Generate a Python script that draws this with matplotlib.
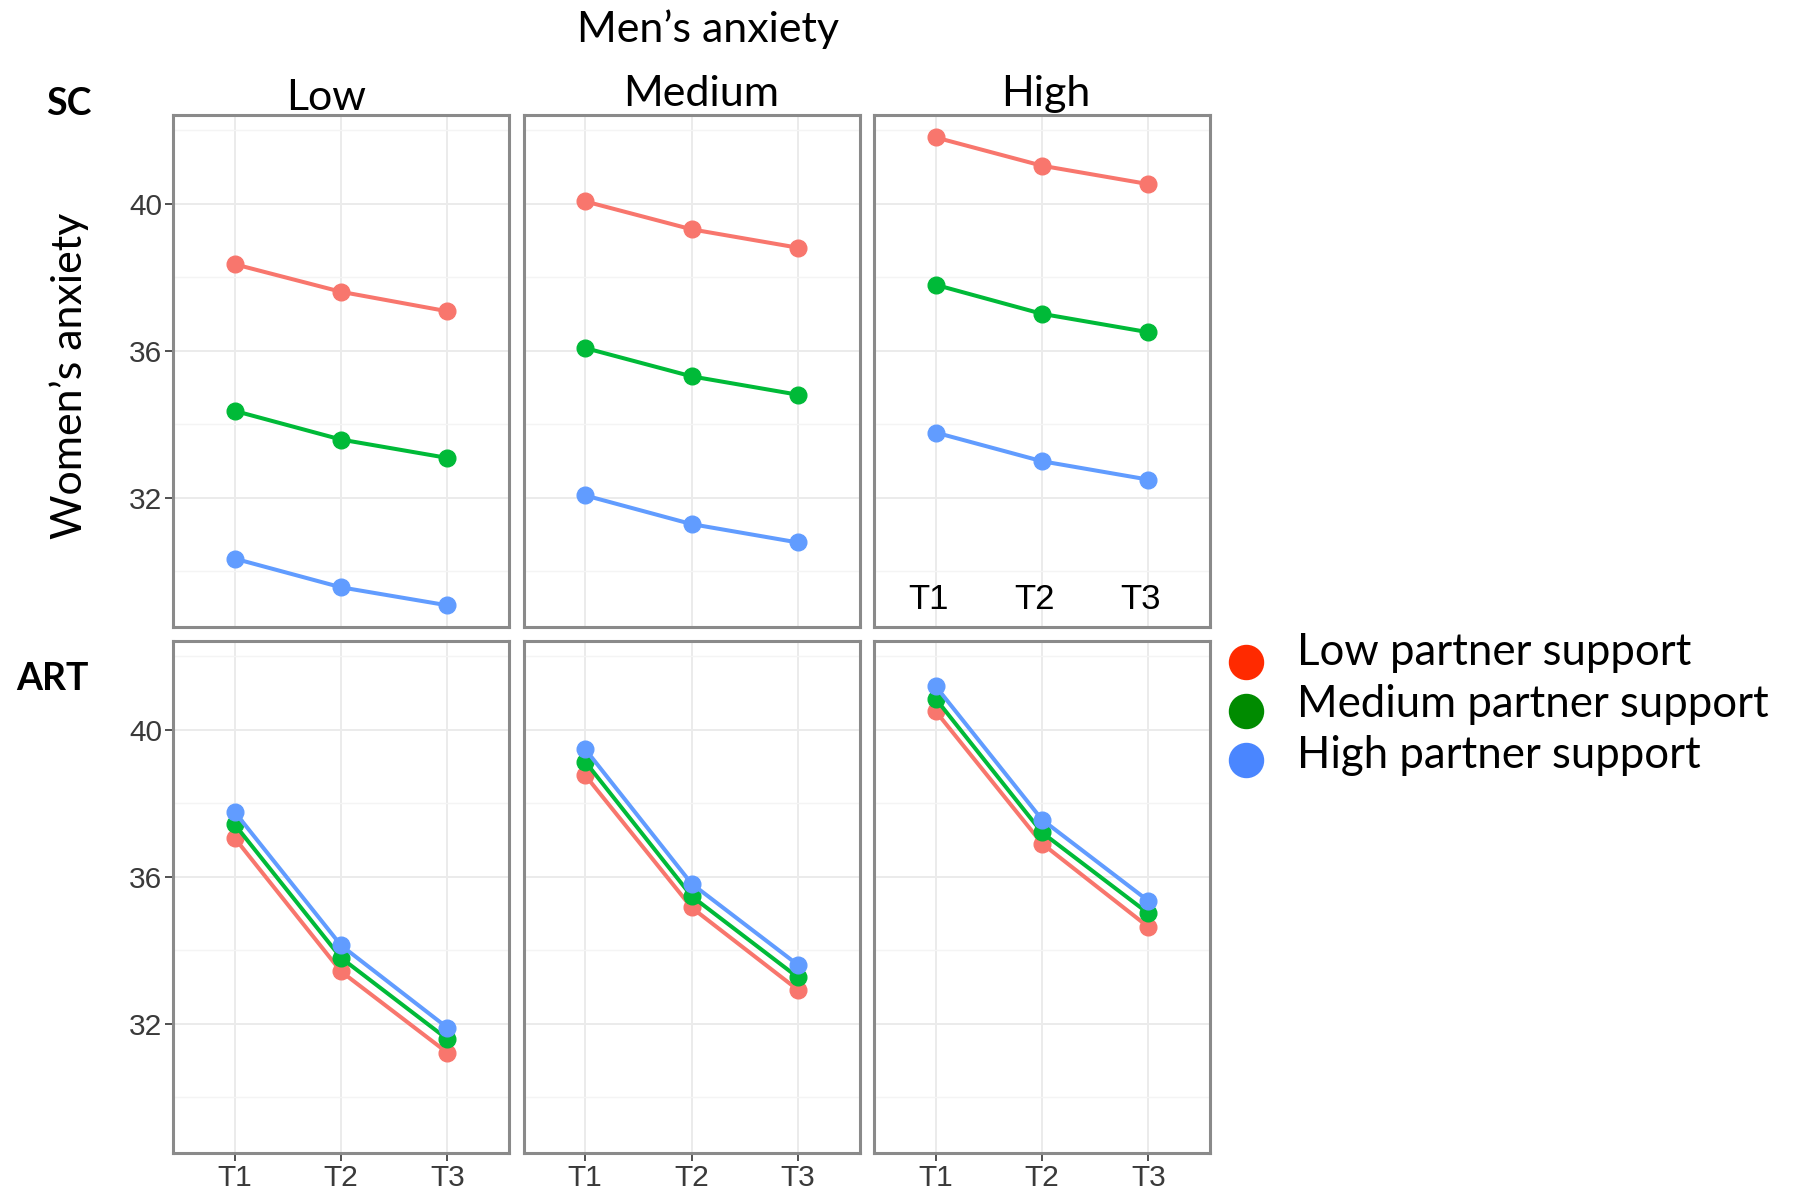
import matplotlib
matplotlib.use("Agg")
import matplotlib.pyplot as plt
from matplotlib.lines import Line2D
from matplotlib.ticker import MultipleLocator

# ---------------- data ----------------
times = ["T1", "T2", "T3"]
mens_levels = ["Low", "Medium", "High"]
support_labels = ["Low partner support", "Medium partner support", "High partner support"]
row_labels = ["SC", "ART"]

# values per men's anxiety level (Low, Medium, High), each over T1..T3
sc_low_support = [[38.35, 37.60, 37.07], [40.06, 39.30, 38.80], [41.80, 41.03, 40.53]]
sc_medium_support = [[34.36, 33.58, 33.08], [36.07, 35.30, 34.80], [37.79, 37.00, 36.50]]
sc_high_support = [[30.34, 29.56, 29.07], [32.06, 31.28, 30.78], [33.77, 32.99, 32.49]]

art_low_support = [[37.05, 33.42, 31.21], [38.76, 35.16, 32.92], [40.50, 36.90, 34.63]]
art_medium_support = [[37.42, 33.79, 31.58], [39.13, 35.47, 33.26], [40.84, 37.20, 35.00]]
art_high_support = [[37.76, 34.13, 31.89], [39.47, 35.81, 33.60], [41.18, 37.55, 35.34]]

line_colors = ["#F8766D", "#00BA38", "#619CFF"]
legend_colors = ["#FF2A00", "#008B00", "#4A86FF"]

rows = [
    [sc_low_support, sc_medium_support, sc_high_support],
    [art_low_support, art_medium_support, art_high_support],
]

# ---------------- layout ----------------
W, H = 1796, 1194
fig = plt.figure(figsize=(W / 100, H / 100), dpi=100)

col_left = [173, 523.5, 874]
col_w = 336
row_top = [115, 641]
row_h = 512

TXT = "Lato"
TICK = "Liberation Sans"
BIG = 31

x = [1, 2, 3]
for r in range(2):
    for c in range(3):
        ax = fig.add_axes([col_left[c] / W, 1 - (row_top[r] + row_h) / H, col_w / W, row_h / H])
        ax.set_xlim(0.42, 3.58)
        ax.set_ylim(28.48, 42.41)
        ax.set_yticks([32, 36, 40])
        ax.set_yticks([30, 34, 38, 42], minor=True)
        ax.set_xticks(x)
        ax.grid(True, which="major", color="#EBEBEB", lw=1.4, zorder=0)
        ax.grid(True, which="minor", axis="y", color="#F4F4F4", lw=1.0, zorder=0)
        ax.set_axisbelow(True)
        for s in ax.spines.values():
            s.set_color("#8A8A8A")
            s.set_linewidth(2.2)
        for k, series in enumerate(rows[r]):
            ax.plot(x, series[c], color=line_colors[k], lw=2.9, marker="o", ms=12,
                    solid_capstyle="round", zorder=3)
        ax.tick_params(axis="both", which="minor", length=0)
        ax.tick_params(axis="both", which="major", color="#333333", width=1.2, length=6,
                       labelsize=21.5, labelcolor="#3A3A3A", pad=2)
        for lab in ax.get_yticklabels() + ax.get_xticklabels():
            lab.set_fontfamily(TICK)
        if c != 0:
            ax.tick_params(axis="y", left=False, labelleft=False)
        if r == 0:
            ax.tick_params(axis="x", bottom=False, labelbottom=False)
        else:
            ax.set_xticklabels(times)
        if r == 0 and c == 2:
            for xi, t in zip(x, times):
                ax.text(xi - 0.07, 0.035, t, transform=ax.get_xaxis_transform(),
                        ha="center", va="baseline", fontsize=25, fontfamily=TICK, color="black")

# ---------------- texts ----------------
def ftext(px, py, s, **kw):
    fig.text(px / W, 1 - py / H, s, **kw)

ftext(708, 41.7, "Men\u2019s anxiety", ha="center", va="baseline", fontsize=BIG, fontfamily=TXT)
for cx, by, lab in zip([326, 701, 1046], [110, 106, 106], mens_levels):
    ftext(cx, by, lab, ha="center", va="baseline", fontsize=BIG, fontfamily=TXT)
ftext(69, 115, row_labels[0], ha="center", va="baseline", fontsize=27, fontfamily=TXT, fontweight="bold")
ftext(52, 690, row_labels[1], ha="center", va="baseline", fontsize=27, fontfamily=TXT, fontweight="bold")
ftext(69, 376, "Women\u2019s anxiety", ha="center", va="center", rotation=90, fontsize=BIG, fontfamily=TXT)

# ---------------- legend ----------------
dot_y = [662, 711, 760]
text_base = [665, 717, 768]
for k, lab in enumerate(support_labels):
    fig.add_artist(Line2D([1246 / W], [1 - dot_y[k] / H], transform=fig.transFigure,
                          ls="none", marker="o", ms=24.5, color=legend_colors[k], label=lab))
    ftext(1297, text_base[k], lab, ha="left", va="baseline", fontsize=31.5, fontfamily=TXT)

fig.savefig("out.png", dpi=100)
